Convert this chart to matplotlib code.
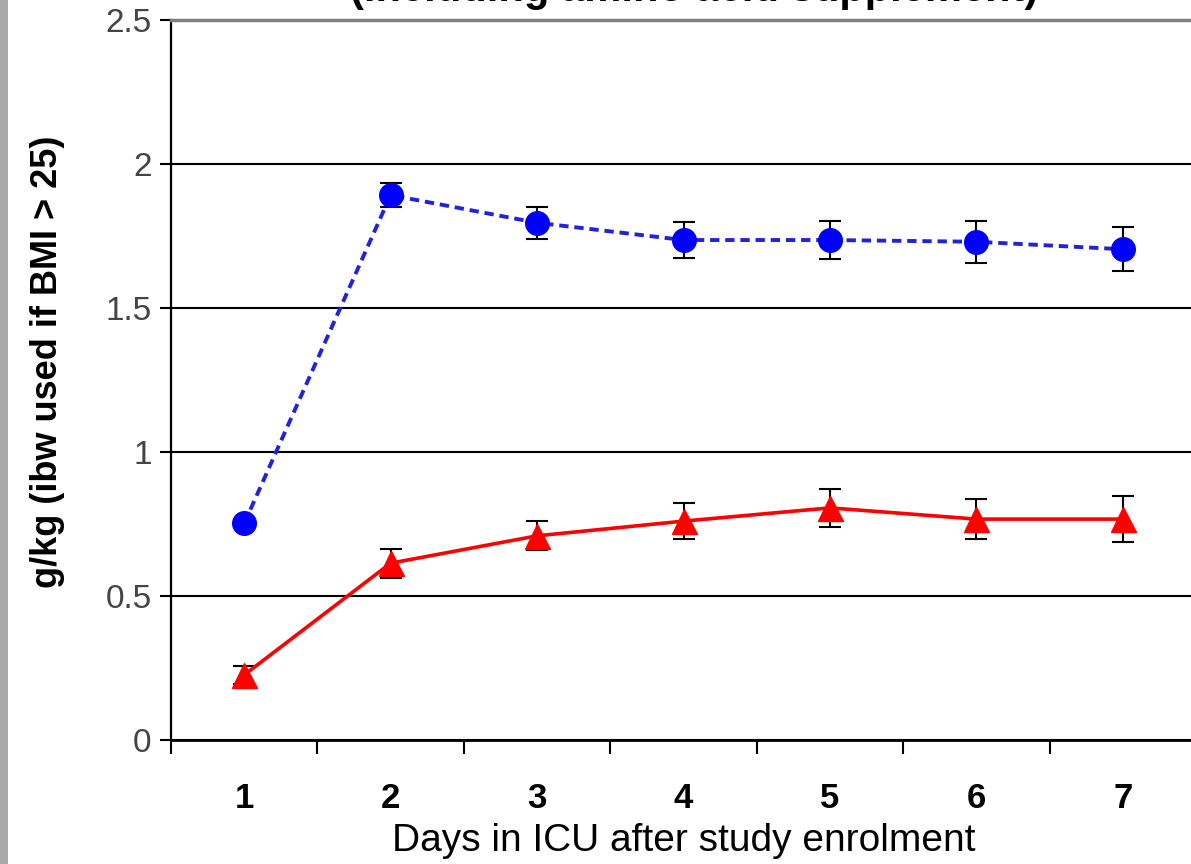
import numpy as np
import matplotlib
matplotlib.use("Agg")
import matplotlib.pyplot as plt
from matplotlib.patches import Rectangle

plt.rcParams['font.family'] = ['Liberation Sans', 'DejaVu Sans']

# 数据：ICU 入组后每日蛋白质摄入 (g/kg)
days = [1, 2, 3, 4, 5, 6, 7]
day_labels = ['1', '2', '3', '4', '5', '6', '7']

protein_total = [0.752, 1.892, 1.796, 1.736, 1.736, 1.730, 1.704]
protein_total_err = [0.01, 0.042, 0.055, 0.062, 0.066, 0.073, 0.076]

protein_diet = [0.226, 0.614, 0.709, 0.760, 0.806, 0.767, 0.767]
protein_diet_err = [0.03, 0.05, 0.05, 0.063, 0.066, 0.07, 0.081]

yticks = [0, 0.5, 1, 1.5, 2, 2.5]
ytick_labels = ['0', '0.5', '1', '1.5', '2', '2.5']

fig = plt.figure(figsize=(11.91, 8.64), dpi=100)
fig.patches.append(Rectangle((0, 0), 8 / 1191, 1, transform=fig.transFigure,
                             facecolor='#a9a9a9', edgecolor='none', zorder=0))

ax = fig.add_axes([171 / 1191, 124 / 864, 1025 / 1191, 720 / 864])

# 误差线在下，标记在上
ax.errorbar(days, protein_total, yerr=protein_total_err, fmt='none',
            ecolor='black', elinewidth=1.5, capsize=8, capthick=1.5, zorder=3)
ax.errorbar(days, protein_diet, yerr=protein_diet_err, fmt='none',
            ecolor='black', elinewidth=1.5, capsize=8, capthick=1.5, zorder=3)

ax.plot(days, protein_total, color='#2222d8', linewidth=2.8,
        linestyle=(0, (2.4, 1.5)), zorder=4)
ax.plot(days, protein_total, 'o', color='#0000ff', markersize=17, zorder=5)
ax.plot(days, protein_diet, color='#ff0000', linewidth=2.6, zorder=4)
ax.plot(days, protein_diet, '^', color='#ff0000', markersize=18, zorder=5)

ax.set_xlim(0.5, 7.5)
ax.set_ylim(0, 2.5)

# 类别轴：刻度线在分界处，标签在中心
ax.set_xticks(np.arange(0.5, 8, 1))
ax.set_xticklabels([])
ax.set_xticks(days, minor=True)
ax.set_xticklabels(day_labels, minor=True, fontsize=25, fontweight='bold')
ax.tick_params(axis='x', which='major', direction='out', length=10, width=1.5)
ax.tick_params(axis='x', which='minor', length=0, pad=30)

ax.set_yticks(yticks)
ax.set_yticklabels(ytick_labels, fontsize=24, color='#444444')
ax.tick_params(axis='y', direction='out', length=8, width=1.5, pad=6)

ax.yaxis.grid(True, color='black', linewidth=1.5)
ax.set_axisbelow(True)

ax.spines['right'].set_visible(False)
ax.spines['top'].set_color('#808080')
ax.spines['top'].set_linewidth(2.5)
ax.spines['left'].set_linewidth(1.6)
ax.spines['bottom'].set_linewidth(2.0)

ax.set_xlabel('Days in ICU after study enrolment', fontsize=28, labelpad=6)
ax.set_ylabel('g/kg (ibw used if BMI > 25)', fontsize=26, fontweight='bold')
ax.yaxis.set_label_coords(-0.103, 0.525)

fig.text(694 / 1191, (864 - 1) / 864, '(including amino acid supplement)',
         ha='center', va='baseline', fontsize=30, fontweight='bold')

fig.savefig('out.png', dpi=100)
